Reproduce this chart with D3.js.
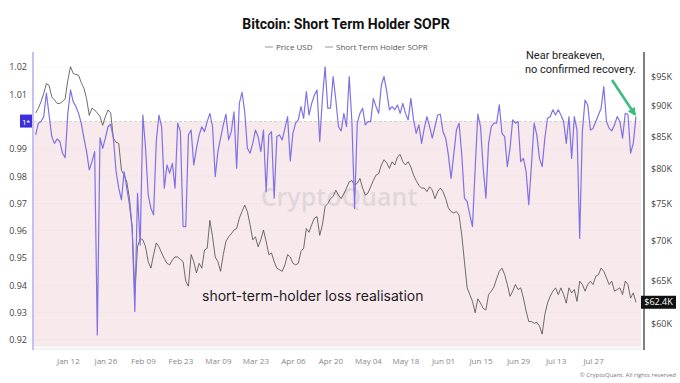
<!DOCTYPE html>
<html>
<head>
<meta charset="utf-8">
<script src="https://cdn.jsdelivr.net/npm/d3@7"></script>
<style>
  body { margin: 0; background: #fff; }
  svg { display: block; font-family: "Roboto", "Liberation Sans", sans-serif; }
</style>
</head>
<body>
<svg id="chart" width="680" height="383"></svg>
<script>
var width = 680;
var height = 383;
var plotLeft = 33, plotRight = 644, plotTop = 52, plotBottom = 348;

// daily series, first value is 2025-12-31
var firstDay = "2025-12-31";

// BTC price, thousands of USD
var priceK = [
  88.8, 89.6, 90.7, 92.1, 93.8, 93.5, 91.5, 91.0, 90.4, 90.4, 90.7, 91.2, 94.4, 96.8, 95.6, 95.4, 95.3, 94.0, 93.0, 91.2,
  88.4, 89.6, 89.3, 88.8, 88.2, 86.8, 88.2, 89.3, 88.8,
  84.7, 84.1, 83.9, 79.8, 79.1, 78.1, 75.7, 71.8, 63.5, 69.2, 70.3, 70.1, 69.2, 67.3, 66.5, 68.2, 69.7, 69.2, 68.4, 67.7,
  67.1, 66.9, 67.5, 67.9, 67.9, 67.6, 67.3, 64.9, 64.3,
  68.2, 67.3, 65.9, 67.1, 66.5, 68.8, 69.0, 72.7, 70.5, 67.9, 67.3, 66.1, 68.2, 69.9, 70.5, 70.9, 71.4, 71.6, 73.0, 73.9,
  74.8, 73.9, 72.1, 70.1, 70.5, 69.2, 70.1, 71.4, 69.9, 68.2, 68.4, 67.3, 66.5, 66.3, 66.1, 66.9, 68.2, 67.9, 67.1, 66.9,
  67.1, 68.6, 69.0, 71.6, 71.1, 72.1, 73.0, 73.2, 70.7, 72.1, 74.6, 75.0, 75.7, 76.0, 76.9, 76.2, 75.7, 76.4,
  77.2, 78.1, 78.3, 77.6, 77.9, 78.6, 77.2, 76.2, 76.5, 77.4, 78.3, 79.1, 79.3,
  80.6, 81.4, 80.9, 80.1, 81.1, 80.6, 81.8, 82.2, 81.1, 80.6, 81.1, 80.3, 79.1, 78.3, 77.6, 77.2, 77.2, 76.7, 77.4, 76.9,
  75.7, 76.7, 77.2, 76.7, 75.7, 74.4, 73.9, 73.7, 73.9, 73.4, 70.7, 67.3, 64.1, 63.3, 62.5, 61.2,
  62.8, 62.3, 61.7, 61.5, 63.3, 63.7, 64.2, 65.2, 66.1, 66.5, 65.7, 64.5, 63.1, 63.7, 64.5, 63.9, 64.1, 62.9, 61.4, 60.2,
  60.2, 60.0, 60.1, 59.7, 58.8, 61.0, 62.3, 63.1, 63.7, 64.1, 63.3, 64.1, 63.3, 62.3, 64.1, 63.5, 63.9, 62.5, 64.9, 64.5,
  63.7, 64.5, 64.9, 64.5, 65.5, 65.7, 66.5, 66.1, 65.3, 64.5, 64.9, 63.7, 63.9, 64.1, 63.3, 64.9, 64.5, 62.9, 63.5, 62.4
];

// short term holder SOPR
var sopr = [
  0.9951, 0.9994, 1.0000, 1.0018, 1.0104, 1.0024, 0.9945, 0.9920, 0.9936, 0.9927,
  0.9884, 0.9868, 1.0030, 1.0116, 1.0073, 1.0055, 1.0030, 0.9994, 0.9939, 0.9890,
  0.9823, 0.9853, 0.9890, 0.9218, 0.9941, 0.9902, 0.9939, 0.9981, 0.9990, 0.9939,
  0.9817, 0.9756, 0.9713, 0.9817, 0.9756, 0.9695, 0.9609, 0.9304, 0.9737, 0.9548,
  1.0024, 0.9902, 0.9731, 0.9682, 0.9658, 0.9927, 1.0024, 0.9981, 0.9756, 0.9841,
  0.9811, 0.9847, 0.9756, 0.9994, 0.9963, 0.9615, 0.9615,
  0.9951, 0.9969, 0.9841, 0.9902, 0.9951, 0.9981, 0.9963, 1.0000, 1.0030, 0.9981,
  0.9798, 0.9890, 0.9939, 0.9988, 1.0027, 0.9933, 0.9963, 1.0036, 0.9829, 1.0067,
  1.0107, 1.0036, 0.9902, 0.9884, 0.9920, 0.9969, 0.9945, 0.9890, 0.9969, 0.9743,
  0.9951, 0.9963, 0.9719, 0.9945, 0.9951, 0.9933, 0.9975, 1.0018, 0.9856, 0.9957,
  0.9994, 1.0006, 1.0055, 1.0012, 1.0110, 1.0024, 1.0067, 1.0097, 1.0116, 0.9927,
  1.0085, 1.0201, 1.0049, 1.0049, 1.0165, 1.0079, 0.9981, 0.9966,
  1.0030, 0.9981, 1.0165, 1.0000, 0.9682, 0.9994, 1.0030, 1.0049, 0.9988, 1.0000,
  1.0000, 1.0085, 1.0055, 1.0030, 1.0134, 1.0165, 1.0110, 1.0043, 1.0055, 1.0043,
  1.0061, 1.0030, 1.0067, 1.0030, 1.0006, 1.0085, 1.0006, 0.9957, 0.9988, 0.9920,
  0.9975, 1.0018, 0.9981, 0.9939, 0.9981, 1.0024, 1.0027, 0.9963, 0.9939, 0.9878,
  0.9792, 0.9878, 0.9969, 0.9994, 0.9878, 0.9719, 0.9707, 0.9658, 0.9615, 0.9829,
  1.0027, 0.9981, 0.9829, 0.9719,
  0.9920, 0.9981, 0.9994, 0.9994, 1.0061, 0.9957, 0.9945, 0.9835, 0.9902, 1.0006,
  0.9994, 1.0000, 0.9853, 0.9865, 0.9817, 0.9695, 0.9841, 0.9994, 0.9951, 0.9865,
  0.9835, 0.9939, 1.0012, 1.0018, 1.0043, 1.0024, 1.0043, 1.0024, 1.0000, 0.9920,
  1.0018, 0.9865, 1.0018, 0.9969, 0.9572, 0.9963, 1.0079, 1.0061, 0.9969, 0.9975,
  1.0000, 1.0024, 1.0049, 1.0128, 1.0000, 0.9975, 0.9966, 0.9988, 1.0018, 1.0000,
  0.9939, 1.0030, 1.0027, 0.9884, 0.9920, 1.0018
];

var soprTicks = [0.92, 0.93, 0.94, 0.95, 0.96, 0.97, 0.98, 0.99, 1.01, 1.02];
var priceTicks = [60000, 65000, 70000, 75000, 80000, 85000, 90000, 95000];
var dateTicks = ["2026-01-12", "2026-01-26", "2026-02-09", "2026-02-23", "2026-03-09", "2026-03-23",
  "2026-04-06", "2026-04-20", "2026-05-04", "2026-05-18", "2026-06-01", "2026-06-15",
  "2026-06-29", "2026-07-13", "2026-07-27"];

var parseDay = d3.utcParse("%Y-%m-%d");
var start = parseDay(firstDay);

var priceData = priceK.map(function(v, i) { return { date: d3.utcDay.offset(start, i), value: v * 1000 }; });
var soprData = sopr.map(function(v, i) { return { date: d3.utcDay.offset(start, i), value: v }; });

var x = d3.scaleUtc()
    .domain([parseDay("2025-12-30"), parseDay("2026-08-15")])
    .range([plotLeft, plotRight]);
var yL = d3.scaleLinear().domain([0.917, 1.0255]).range([plotBottom, plotTop]);
var yR = d3.scaleLog().domain([57300, 99500]).range([plotBottom, plotTop]);

var svg = d3.select("#chart");

// region below breakeven
svg.append("rect")
    .attr("x", plotLeft + 1)
    .attr("y", yL(1))
    .attr("width", plotRight - plotLeft - 4)
    .attr("height", yL(0.9175) - yL(1))
    .attr("fill", "#f8e9ed");

// faint grid
svg.append("g").selectAll("line")
    .data(soprTicks)
    .enter().append("line")
    .attr("x1", plotLeft + 1).attr("x2", plotRight - 3)
    .attr("y1", function(d) { return yL(d); }).attr("y2", function(d) { return yL(d); })
    .attr("stroke", "#000").attr("stroke-opacity", 0.025);

svg.append("line")
    .attr("x1", plotLeft + 1).attr("x2", plotRight - 3)
    .attr("y1", yL(1)).attr("y2", yL(1))
    .attr("stroke", "#c8c8c8").attr("stroke-width", 0.8)
    .attr("stroke-dasharray", "3,2");

svg.append("line")
    .attr("x1", plotLeft).attr("x2", plotRight)
    .attr("y1", plotBottom + 1).attr("y2", plotBottom + 1)
    .attr("stroke", "#e6e6e6");

// watermark
svg.append("text")
    .attr("x", 339).attr("y", 206)
    .attr("text-anchor", "middle")
    .style("font-family", "'Open Sans', sans-serif")
    .style("font-size", "25px")
    .style("font-weight", "600")
    .style("fill", "#d9d2d6")
    .style("fill-opacity", 0.75)
    .text("CryptoQuant");

var priceLine = d3.line()
    .x(function(d) { return x(d.date); })
    .y(function(d) { return yR(d.value); });
var soprLine = d3.line()
    .x(function(d) { return x(d.date); })
    .y(function(d) { return yL(d.value); });

svg.append("path")
    .datum(priceData)
    .attr("d", priceLine)
    .attr("fill", "none")
    .attr("stroke", "#4a4a4a")
    .attr("stroke-width", 0.8);

svg.append("path")
    .datum(soprData)
    .attr("d", soprLine)
    .attr("fill", "none")
    .attr("stroke", "#7f72e4")
    .attr("stroke-width", 1.2)
    .attr("stroke-linejoin", "round");

// left axis
var leftAxis = svg.append("g")
    .attr("transform", "translate(" + plotLeft + ",0)")
    .call(d3.axisLeft(yL).tickValues(soprTicks).tickSize(0).tickPadding(6).tickFormat(d3.format(".2f")));
leftAxis.select(".domain").attr("stroke", "#b5acec").attr("stroke-width", 1.5)
    .attr("d", "M0," + plotTop + "V" + (plotBottom + 2));
leftAxis.selectAll("text").style("font-size", "9px").style("fill", "#444")
    .style("font-family", "'Open Sans', sans-serif");

// "1*" marker on the breakeven line
svg.append("rect")
    .attr("x", 20).attr("y", yL(1) - 7)
    .attr("width", 12).attr("height", 13)
    .attr("fill", "#3b30dc");
svg.append("text")
    .attr("x", 26).attr("y", yL(1) + 3)
    .attr("text-anchor", "middle")
    .style("font-size", "8px").style("fill", "#fff")
    .text("1*");

// right axis
var rightAxis = svg.append("g")
    .attr("transform", "translate(" + plotRight + ",0)")
    .call(d3.axisRight(yR).tickValues(priceTicks).tickSize(0).tickPadding(7)
        .tickFormat(function(d) { return "$" + d / 1000 + "K"; }));
rightAxis.select(".domain").attr("stroke", "#555").attr("stroke-width", 1.5)
    .attr("d", "M0," + plotTop + "V" + (plotBottom + 2));
rightAxis.selectAll("text").style("font-size", "9px").style("fill", "#444")
    .style("font-family", "'Open Sans', sans-serif");

// last price badge
var lastPrice = priceData[priceData.length - 1].value;
svg.append("rect")
    .attr("x", plotRight - 3).attr("y", yR(lastPrice) - 6.5)
    .attr("width", 35).attr("height", 13)
    .attr("fill", "#111");
svg.append("text")
    .attr("x", plotRight + 14.5).attr("y", yR(lastPrice) + 3)
    .attr("text-anchor", "middle")
    .style("font-size", "9px").style("fill", "#fff")
    .style("font-family", "'Open Sans', sans-serif")
    .text("$" + d3.format(".1f")(lastPrice / 1000) + "K");

// bottom axis
var bottomAxis = svg.append("g")
    .attr("transform", "translate(0," + (plotBottom + 4) + ")")
    .call(d3.axisBottom(x).tickValues(dateTicks.map(parseDay)).tickSize(0).tickPadding(6)
        .tickFormat(d3.utcFormat("%b %d")));
bottomAxis.select(".domain").remove();
bottomAxis.selectAll("text").style("font-size", "8px").style("fill", "#888")
    .style("font-family", "'Open Sans', sans-serif");

// title and legend
svg.append("text")
    .attr("x", 346).attr("y", 29)
    .attr("text-anchor", "middle")
    .style("font-size", "14px").style("font-weight", "bold").style("fill", "#111")
    .text("Bitcoin: Short Term Holder SOPR");

var legend = svg.append("g").style("font-size", "8px").style("fill", "#555")
    .style("font-family", "'Open Sans', sans-serif");
legend.append("line").attr("x1", 265).attr("x2", 273).attr("y1", 47).attr("y2", 47)
    .attr("stroke", "#999").attr("stroke-width", 1);
legend.append("text").attr("x", 276).attr("y", 50).text("Price USD");
legend.append("line").attr("x1", 325).attr("x2", 333).attr("y1", 47).attr("y2", 47)
    .attr("stroke", "#999").attr("stroke-width", 1);
legend.append("text").attr("x", 336).attr("y", 50).text("Short Term Holder SOPR");

// annotations
svg.append("text")
    .attr("x", 202).attr("y", 301)
    .style("font-family", "Inter, sans-serif")
    .style("font-size", "14px").style("fill", "#1c1c1c")
    .text("short-term-holder loss realisation");

var note = svg.append("g").style("font-family", "Roboto, sans-serif")
    .style("font-size", "11px").style("fill", "#222");
note.append("text").attr("x", 526).attr("y", 59).text("Near breakeven,");
note.append("text").attr("x", 525).attr("y", 73).text("no confirmed recovery.");

var lastSopr = soprData[soprData.length - 1];
var ax = x(lastSopr.date), ay = yL(lastSopr.value) - 2;
svg.append("defs").append("marker")
    .attr("id", "head")
    .attr("viewBox", "0 0 10 10")
    .attr("refX", 8).attr("refY", 5)
    .attr("markerWidth", 3.2).attr("markerHeight", 3.2)
    .attr("orient", "auto")
    .append("path").attr("d", "M0,0L10,5L0,10z").attr("fill", "#3dbb7c");
svg.append("line")
    .attr("x1", 612).attr("y1", 80)
    .attr("x2", ax - 1).attr("y2", ay)
    .attr("stroke", "#3dbb7c").attr("stroke-width", 2.6)
    .attr("marker-end", "url(#head)");

svg.append("text")
    .attr("x", 676).attr("y", 377)
    .attr("text-anchor", "end")
    .style("font-size", "6px").style("fill", "#777")
    .style("font-family", "'Open Sans', sans-serif")
    .text("© CryptoQuant. All rights reserved");
</script>
</body>
</html>
